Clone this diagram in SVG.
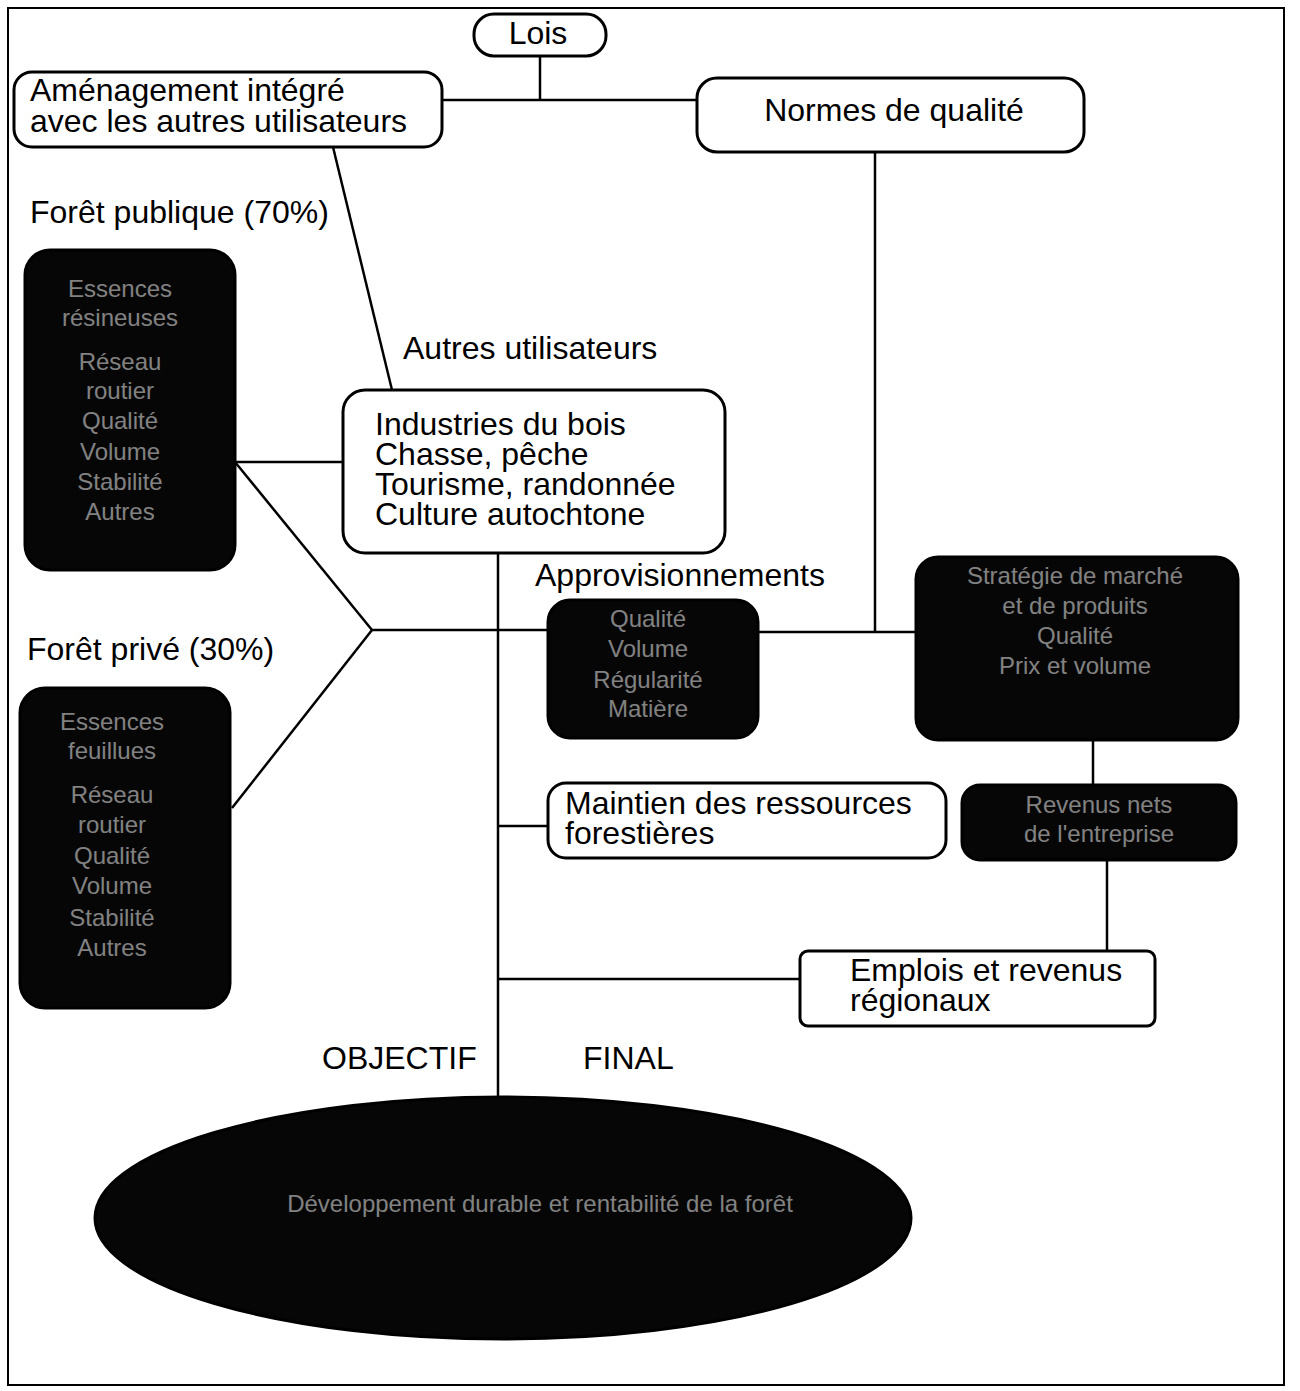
<svg xmlns="http://www.w3.org/2000/svg" width="1300" height="1391" viewBox="0 0 1300 1391">
<style>
  .lbl { font-family: "Liberation Sans", Arial, sans-serif; font-size: 32px; fill: #000; }
  .box { fill: #fff; stroke: #000; stroke-width: 3; }
  .dark { fill: #060606; stroke: #000; stroke-width: 3; }
  .dtxt { font-family: "Liberation Sans", Arial, sans-serif; font-size: 24px; fill: #fff; fill-opacity: 0.5; text-anchor: middle; }
  .ln { stroke: #000; stroke-width: 2.5; fill: none; }
</style>
<rect x="0" y="0" width="1300" height="1391" fill="#fff"/>
<rect x="8" y="8" width="1276" height="1377" fill="none" stroke="#000" stroke-width="2"/>

<g id="connectors">
  <line class="ln" x1="540" y1="56" x2="540" y2="100"/>
  <line class="ln" x1="442" y1="100" x2="697" y2="100"/>
  <line class="ln" x1="875" y1="152" x2="875" y2="633"/>
  <line class="ln" x1="333" y1="147" x2="392" y2="390"/>
  <line class="ln" x1="235" y1="462" x2="343" y2="462"/>
  <line class="ln" x1="235" y1="462" x2="372" y2="630"/>
  <line class="ln" x1="372" y1="630" x2="232" y2="808"/>
  <line class="ln" x1="372" y1="630" x2="548" y2="630"/>
  <line class="ln" x1="498" y1="553" x2="498" y2="1098"/>
  <line class="ln" x1="758" y1="632" x2="916" y2="632"/>
  <line class="ln" x1="1093" y1="740" x2="1093" y2="785"/>
  <line class="ln" x1="1107" y1="860" x2="1107" y2="951"/>
  <line class="ln" x1="498" y1="826" x2="548" y2="826"/>
  <line class="ln" x1="498" y1="979" x2="800" y2="979"/>
</g>

<g id="lois">
  <rect class="box" x="474" y="14" width="132" height="42" rx="20"/>
  <text class="lbl" x="538" y="44" text-anchor="middle">Lois</text>
</g>

<g id="amenagement">
  <rect class="box" x="14" y="72" width="428" height="75" rx="18"/>
  <text class="lbl" x="30" y="101">Aménagement intégré</text>
  <text class="lbl" x="30" y="132">avec les autres utilisateurs</text>
</g>

<g id="normes">
  <rect class="box" x="697" y="78" width="387" height="74" rx="20"/>
  <text class="lbl" x="894" y="121" text-anchor="middle">Normes de qualité</text>
</g>

<g id="foret-publique-label">
  <text class="lbl" x="30" y="223">Forêt publique (70%)</text>
</g>

<g id="foret-publique">
  <rect class="dark" x="25" y="250" width="210" height="320" rx="25"/>
  <text class="dtxt" x="120" y="297">Essences</text>
  <text class="dtxt" x="120" y="326">résineuses</text>
  <text class="dtxt" x="120" y="370">Réseau</text>
  <text class="dtxt" x="120" y="399">routier</text>
  <text class="dtxt" x="120" y="429">Qualité</text>
  <text class="dtxt" x="120" y="460">Volume</text>
  <text class="dtxt" x="120" y="490">Stabilité</text>
  <text class="dtxt" x="120" y="520">Autres</text>
</g>

<g id="autres-utilisateurs-label">
  <text class="lbl" x="403" y="359">Autres utilisateurs</text>
</g>

<g id="industries">
  <rect class="box" x="343" y="390" width="382" height="163" rx="22"/>
  <text class="lbl" x="375" y="435">Industries du bois</text>
  <text class="lbl" x="375" y="465">Chasse, pêche</text>
  <text class="lbl" x="375" y="495">Tourisme, randonnée</text>
  <text class="lbl" x="375" y="525">Culture autochtone</text>
</g>

<g id="approvisionnements-label">
  <text class="lbl" x="535" y="586">Approvisionnements</text>
</g>

<g id="approvisionnements">
  <rect class="dark" x="548" y="600" width="210" height="138" rx="22"/>
  <text class="dtxt" x="648" y="627">Qualité</text>
  <text class="dtxt" x="648" y="657">Volume</text>
  <text class="dtxt" x="648" y="688">Régularité</text>
  <text class="dtxt" x="648" y="717">Matière</text>
</g>

<g id="strategie">
  <rect class="dark" x="916" y="557" width="322" height="183" rx="22"/>
  <text class="dtxt" x="1075" y="584">Stratégie de marché</text>
  <text class="dtxt" x="1075" y="614">et de produits</text>
  <text class="dtxt" x="1075" y="644">Qualité</text>
  <text class="dtxt" x="1075" y="674">Prix et volume</text>
</g>

<g id="revenus-nets">
  <rect class="dark" x="962" y="785" width="274" height="75" rx="18"/>
  <text class="dtxt" x="1099" y="813">Revenus nets</text>
  <text class="dtxt" x="1099" y="842">de l'entreprise</text>
</g>

<g id="foret-privee-label">
  <text class="lbl" x="27" y="660">Forêt privé (30%)</text>
</g>

<g id="foret-privee">
  <rect class="dark" x="20" y="688" width="210" height="320" rx="25"/>
  <text class="dtxt" x="112" y="730">Essences</text>
  <text class="dtxt" x="112" y="759">feuillues</text>
  <text class="dtxt" x="112" y="803">Réseau</text>
  <text class="dtxt" x="112" y="833">routier</text>
  <text class="dtxt" x="112" y="864">Qualité</text>
  <text class="dtxt" x="112" y="894">Volume</text>
  <text class="dtxt" x="112" y="926">Stabilité</text>
  <text class="dtxt" x="112" y="956">Autres</text>
</g>

<g id="maintien">
  <rect class="box" x="548" y="783" width="398" height="75" rx="18"/>
  <text class="lbl" x="565" y="814">Maintien des ressources</text>
  <text class="lbl" x="565" y="844">forestières</text>
</g>

<g id="emplois">
  <rect class="box" x="800" y="951" width="355" height="75" rx="8"/>
  <text class="lbl" x="850" y="981">Emplois et revenus</text>
  <text class="lbl" x="850" y="1011">régionaux</text>
</g>

<g id="objectif-label">
  <text class="lbl" x="322" y="1069">OBJECTIF</text>
  <text class="lbl" x="583" y="1069">FINAL</text>
</g>

<g id="objectif-final">
  <ellipse class="dark" cx="503" cy="1218" rx="408" ry="121"/>
  <text class="dtxt" x="540" y="1212">Développement durable et rentabilité de la forêt</text>
</g>
</svg>
